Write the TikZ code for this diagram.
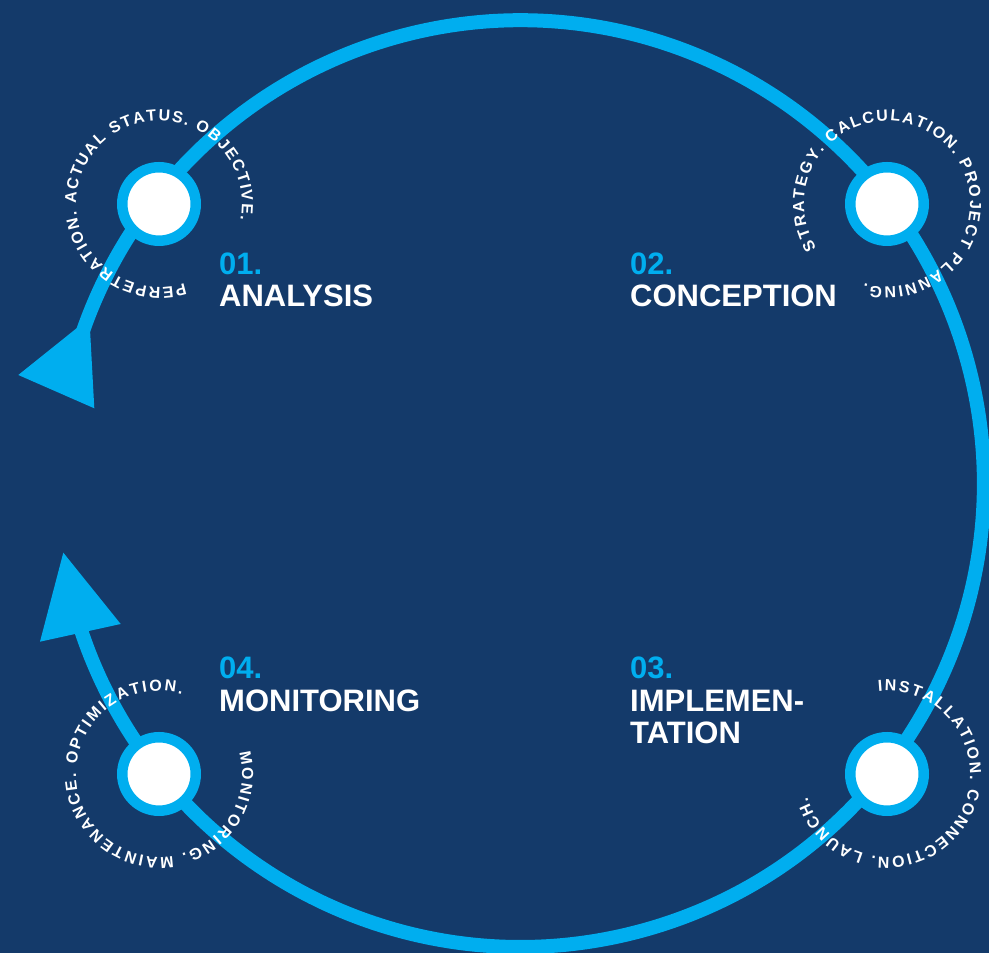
\documentclass[tikz,border=0pt]{standalone}
\usepackage{fontspec}
\setmainfont{Liberation Sans}
\usetikzlibrary{decorations.text}
\definecolor{navybg}{RGB}{20,58,106}
\definecolor{skyline}{RGB}{0,174,239}
\newcommand\circfont{\fontsize{16}{16}\selectfont\bfseries}
\begin{document}
\begin{tikzpicture}[x=1pt,y=1pt,
  ring/.style={draw=skyline, line width=14pt},
  stage/.style={circle, fill=white, draw=skyline, line width=10.5pt, minimum size=73.5pt, inner sep=0pt},
  numlabel/.style={anchor=base west, inner sep=0pt, text=skyline, font=\fontsize{31}{31}\selectfont\bfseries},
  ttllabel/.style={anchor=base west, inner sep=0pt, text=white, font=\fontsize{31}{31}\selectfont\bfseries},
  tiphead/.style={fill=skyline, draw=none},
  ringtext/.style={decorate, decoration={text along path, text color=white, text align={fit to path}, text={#1}}}
]
\fill[navybg] (0,0) rectangle (989,953);
\useasboundingbox (0,0) rectangle (989,953);

% big cycle
\coordinate (c) at (520.5,469.4);
\draw[ring] (c) ++(-162.5:463.3) arc[start angle=-162.5, end angle=162, radius=463.3];

% arrow heads
\coordinate (t1a) at (18.3,578);
\coordinate (t1b) at (89.4,635);
\coordinate (t1c) at (94.3,544.7);
\fill[tiphead] (t1a) -- (t1b) -- (t1c) -- cycle;
\coordinate (t2a) at (63.3,400.3);
\coordinate (t2b) at (40,311.3);
\coordinate (t2c) at (120.7,329);
\fill[tiphead] (t2a) -- (t2b) -- (t2c) -- cycle;

% stage nodes
\node[stage] (n1) at (159,749) {};
\node[stage] (n2) at (887,749) {};
\node[stage] (n3) at (887,179) {};
\node[stage] (n4) at (159,179) {};

% ring texts
\path[ringtext={|\circfont|PERPETRATION. ACTUAL STATUS. OBJECTIVE.}]
  (n1.center) ++(-72:83) arc[start angle=-72, end angle=-371, radius=83];
\path[ringtext={|\circfont|STRATEGY. CALCULATION. PROJECT PLANNING.}]
  (n2.center) ++(-148:83) arc[start angle=-148, end angle=-466, radius=83];
\path[ringtext={|\circfont|INSTALLATION. CONNECTION. LAUNCH.}]
  (n3.center) ++(-264:83) arc[start angle=-264, end angle=-524, radius=83];
\path[ringtext={|\circfont|MONITORING. MAINTENANCE. OPTIMIZATION.}]
  (n4.center) ++(-345:83) arc[start angle=-345, end angle=-646, radius=83];

% titles
\node[numlabel] (h1) at (219,678) {01.};
\node[ttllabel] (l1) at (219,646) {ANALYSIS};
\node[numlabel] (h2) at (630,678) {02.};
\node[ttllabel] (l2) at (630,646) {CONCEPTION};
\node[numlabel] (h3) at (630,274.5) {03.};
\node[ttllabel] (l3a) at (630,241.5) {IMPLEMEN-};
\node[ttllabel] (l3b) at (630,209) {TATION};
\node[numlabel] (h4) at (219,274.5) {04.};
\node[ttllabel] (l4) at (219,241.5) {MONITORING};
\end{tikzpicture}
\end{document}
